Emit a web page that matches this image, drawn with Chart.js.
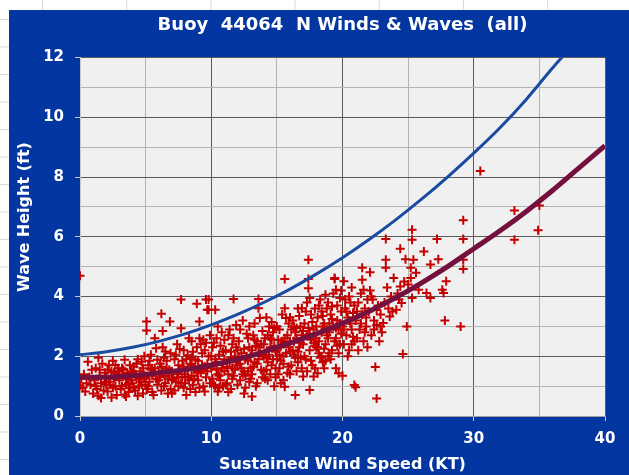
<!DOCTYPE html>
<html>
<head>
<meta charset="utf-8">
<title>Buoy 44064 N Winds & Waves</title>
<script src="https://cdn.jsdelivr.net/npm/chart.js@4.4.1/dist/chart.umd.min.js"></script>
<style>
    html, body { margin: 0; padding: 0; }
    body {
        width: 629px; height: 475px; overflow: hidden; position: relative;
        background-color: #fff;
        background-image:
            linear-gradient(to right, #d9d9d9 1px, transparent 1px),
            linear-gradient(to bottom, #d9d9d9 1px, transparent 1px);
        background-size: 84.2px 100%, 100% 27.5px;
        background-position: 42px 0, 0 19px;
    }
    #frame {
        position: absolute; left: 9px; top: 10px;
        width: 620px; height: 465px;
        background: #0336a0;
    }
</style>
</head>
<body>
<div id="frame"><canvas id="buoyChart" width="620" height="465"></canvas></div>
<script>
const calmObs = [
    [0.0,1.02],[0.1,1.25],[0.2,0.95],[0.3,1.4],[0.4,0.82],[0.5,1.1],[0.6,1.82],[0.7,1.3],[0.8,1.05],[0.9,1.55],[0.0,4.7],
    [1.0,0.75],[1.1,1.2],[1.2,1.6],[1.3,0.9],[1.4,1.95],[1.4,0.68],[1.5,1.35],[1.6,1.1],[1.7,1.75],[1.8,0.85],[1.9,1.45],[1.2,1.0],[1.6,0.6],[1.9,1.15],
    [2.0,1.3],[2.1,0.82],[2.2,1.7],[2.3,1.05],[2.4,1.5],[2.5,0.95],[2.6,1.25],[2.7,1.71],[2.8,0.7],[2.9,1.4],[2.2,1.15],[2.5,1.85],[2.7,1.0],[2.9,1.6],[2.4,0.62],[2.1,1.55],
    [3.0,1.2],[3.1,0.9],[3.2,1.6],[3.3,1.35],[3.4,1.88],[3.5,0.65],[3.5,1.05],[3.6,1.45],[3.7,0.8],[3.8,1.7],[3.9,1.2],[3.2,1.0],[3.4,0.72],[3.6,1.25],[3.8,0.95],[3.3,1.55],[3.9,1.5],
    [4.0,1.1],[4.1,1.65],[4.2,0.85],[4.3,1.3],[4.4,1.9],[4.5,1.0],[4.6,1.5],[4.7,1.82],[4.8,0.75],[4.9,1.25],[4.2,1.4],[4.4,0.68],[4.6,1.15],[4.8,1.6],[4.1,0.95],[4.3,1.75],[4.7,1.05],[4.9,2.0],
    [5.0,1.3],[5.07,2.86],[5.07,3.16],[5.1,0.9],[5.2,1.7],[5.3,1.15],[5.4,2.05],[5.5,0.8],[5.6,1.45],[5.7,2.6],[5.8,2.27],[5.9,1.88],[5.2,1.0],[5.4,1.55],[5.6,0.7],[5.8,1.25],[5.3,1.85],[5.5,1.35],[5.9,1.05],[5.7,1.6],
    [6.0,1.2],[6.2,3.42],[6.3,2.85],[6.5,2.16],[6.85,3.16],[6.1,1.75],[6.2,0.85],[6.3,1.45],[6.4,1.95],[6.5,1.1],[6.6,1.6],[6.7,0.75],[6.8,1.35],[6.9,2.1],[6.1,1.3],[6.4,1.0],[6.6,1.85],[6.8,1.55],[6.9,0.9],[6.3,2.3],[6.7,1.25],
    [7.0,0.76],[7.0,1.5],[7.2,1.9],[7.3,1.15],[7.4,2.4],[7.5,1.7],[7.6,2.24],[7.7,3.9],[7.7,2.94],[7.8,1.3],[7.9,0.95],[7.1,1.25],[7.3,2.05],[7.5,1.0],[7.6,1.55],[7.8,1.85],[7.9,2.2],[7.2,0.85],[7.4,1.4],[7.7,1.1],[7.9,1.65],
    [8.0,1.4],[8.1,0.7],[8.2,2.03],[8.3,1.2],[8.4,1.75],[8.5,2.5],[8.6,1.05],[8.7,1.6],[8.8,1.88],[8.9,3.76],[8.9,2.3],[8.1,1.9],[8.3,2.6],[8.4,0.9],[8.5,1.35],[8.6,2.15],[8.7,1.25],[8.8,0.8],[8.2,1.55],[8.9,1.45],[8.5,1.7],
    [9.0,1.2],[9.1,3.16],[9.1,2.6],[9.2,2.4],[9.3,1.7],[9.4,1.0],[9.5,0.82],[9.6,3.9],[9.6,2.45],[9.7,3.56],[9.8,3.9],[9.8,3.56],[9.0,1.85],[9.2,1.45],[9.3,2.1],[9.4,1.55],[9.5,2.2],[9.6,1.3],[9.7,1.75],[9.8,2.0],[9.9,1.1],[9.9,2.7],[9.1,0.95],[9.4,2.55],[9.7,1.5],
    [1.5,1.55],[2.0,1.05],[2.6,1.45],[3.0,1.5],[3.5,1.3],[4.0,1.45],[4.5,1.25],[5.0,1.05],[5.5,1.6],[6.0,1.45],[6.5,1.35],[7.0,1.2],[7.5,1.3],[8.0,1.1],[8.5,1.95],[9.0,1.5],[9.5,1.65],[3.7,1.1],[6.2,1.65],[8.2,1.3]
];
const moderateObs = [
    [10.0,1.6],[10.1,2.3],[10.2,1.05],[10.3,3.56],[10.3,1.9],[10.4,2.6],[10.5,0.82],[10.5,1.4],[10.6,2.05],[10.7,1.2],[10.8,2.8],[10.9,1.75],[10.1,1.25],[10.2,2.45],[10.4,1.55],[10.6,0.95],[10.7,2.35],[10.8,1.6],[10.9,2.15],[10.3,1.0],[10.5,3.0],[10.0,2.0],[10.6,1.35],[10.9,1.0],
    [11.0,1.5],[11.1,2.2],[11.2,1.1],[11.3,2.7],[11.4,1.8],[11.5,0.9],[11.6,2.4],[11.7,3.92],[11.7,1.35],[11.8,2.0],[11.9,3.05],[11.0,2.55],[11.2,1.65],[11.3,0.8],[11.4,2.9],[11.5,1.95],[11.6,1.25],[11.8,1.55],[11.9,2.3],[11.1,1.05],[11.5,2.15],[11.9,1.8],[11.3,1.4],[11.7,2.6],
    [12.0,1.7],[12.1,2.5],[12.2,1.2],[12.3,2.1],[12.4,3.2],[12.5,1.5],[12.6,0.95],[12.7,2.75],[12.8,1.85],[12.9,2.3],[12.0,1.05],[12.2,2.9],[12.3,1.6],[12.5,2.25],[12.6,1.35],[12.8,2.6],[12.9,1.15],[12.1,1.95],[12.4,1.4],[12.7,2.0],[12.9,3.0],[12.5,0.75],[12.2,1.75],[12.8,1.5],
    [13.0,2.0],[13.1,0.65],[13.1,1.4],[13.2,2.7],[13.3,1.8],[13.4,2.35],[13.5,1.1],[13.6,3.92],[13.6,3.61],[13.7,3.28],[13.7,2.1],[13.8,1.55],[13.9,2.85],[13.0,1.25],[13.2,1.65],[13.3,3.1],[13.4,1.0],[13.5,2.5],[13.6,1.9],[13.8,2.4],[13.9,1.3],[13.1,2.2],[13.5,1.75],[13.9,2.05],[13.3,2.55],
    [14.0,1.5],[14.1,2.6],[14.2,1.95],[14.3,1.2],[14.4,3.0],[14.5,2.3],[14.6,1.7],[14.7,2.8],[14.8,1.0],[14.9,2.15],[14.0,2.4],[14.2,3.3],[14.3,1.8],[14.5,1.4],[14.6,2.55],[14.7,1.9],[14.8,2.95],[14.9,1.6],[14.1,1.25],[14.4,2.05],[14.6,3.15],[14.8,2.35],[14.3,2.7],[14.9,1.3],
    [15.0,2.2],[15.1,1.4],[15.2,2.9],[15.3,1.85],[15.4,2.5],[15.5,1.2],[15.6,4.59],[15.6,3.61],[15.6,0.98],[15.7,3.28],[15.7,2.1],[15.8,2.7],[15.9,1.65],[15.0,3.0],[15.2,1.6],[15.3,2.35],[15.4,3.4],[15.5,2.0],[15.6,2.6],[15.8,1.45],[15.9,3.1],[15.1,2.55],[15.5,1.75],[15.9,2.3],[15.3,1.1],
    [16.0,2.5],[16.1,1.7],[16.2,3.2],[16.3,2.05],[16.4,0.7],[16.4,2.8],[16.5,1.5],[16.6,3.6],[16.7,2.3],[16.8,1.95],[16.9,3.61],[16.9,2.7],[16.0,1.4],[16.2,2.2],[16.3,3.0],[16.5,2.6],[16.6,1.8],[16.7,3.35],[16.8,2.45],[16.9,1.6],[16.1,2.9],[16.4,1.95],[16.6,2.15],[16.8,3.0],[16.0,3.3],
    [17.0,1.32],[17.0,2.4],[17.1,3.1],[17.2,1.9],[17.3,2.7],[17.4,5.23],[17.4,4.59],[17.4,4.28],[17.5,3.95],[17.5,0.87],[17.5,2.2],[17.6,3.4],[17.7,1.7],[17.8,1.32],[17.8,2.9],[17.9,3.6],[17.1,2.0],[17.2,3.5],[17.3,1.5],[17.6,2.55],[17.7,3.15],[17.9,2.35],[17.0,2.85],[17.4,2.95],[17.6,1.85],[17.9,1.6],[17.3,3.8],
    [18.0,2.6],[18.1,1.43],[18.1,3.3],[18.2,2.1],[18.3,3.9],[18.4,3.5],[18.4,2.8],[18.5,1.8],[18.6,1.6],[18.6,3.1],[18.7,4.06],[18.7,2.4],[18.8,3.6],[18.9,2.0],[18.0,3.0],[18.2,2.5],[18.3,1.95],[18.5,3.35],[18.6,2.25],[18.8,2.9],[18.9,3.8],[18.1,2.3],[18.4,2.0],[18.7,1.85],[18.9,2.6],[18.2,3.7],
    [19.0,2.8],[19.1,3.4],[19.2,3.67],[19.2,2.2],[19.3,4.1],[19.4,4.59],[19.4,4.62],[19.5,4.23],[19.5,1.6],[19.5,2.6],[19.6,3.2],[19.7,1.43],[19.7,2.9],[19.8,3.95],[19.8,2.4],[19.9,3.5],[19.0,2.1],[19.1,1.9],[19.3,3.0],[19.4,2.5],[19.6,3.7],[19.7,2.1],[19.8,3.1],[19.9,2.75],[19.2,3.25],[19.6,2.35],[19.9,4.2],
    [10.4,1.8],[11.0,1.9],[11.6,1.6],[12.0,2.2],[12.6,1.9],[13.0,1.6],[13.6,2.3],[14.0,2.0],[14.5,2.6],[15.0,1.9],[15.5,2.4],[16.0,2.15],[16.5,2.95],[17.0,2.6],[17.5,2.75],[18.0,2.3],[18.5,3.0],[19.0,3.1],[19.5,2.95],[15.2,2.05],[16.3,2.5],[17.8,2.45],[18.8,2.7],[14.2,1.55]
];
const strongObs = [
    [20.0,1.35],[20.0,3.0],[20.1,4.51],[20.1,2.4],[20.2,3.6],[20.3,2.7],[20.4,3.3],[20.5,4.0],[20.5,2.2],[20.6,3.8],[20.7,2.9],[20.8,3.45],[20.9,1.04],[20.9,2.5],[20.2,3.9],[20.4,2.0],[20.6,3.1],[20.7,4.3],[20.8,2.65],[20.3,3.5],[20.9,3.7],[20.1,2.9],[20.5,3.2],[20.7,2.4],
    [21.0,0.96],[21.0,3.2],[21.1,2.6],[21.2,3.8],[21.3,2.9],[21.4,4.1],[21.5,4.96],[21.5,4.56],[21.6,4.23],[21.5,3.4],[21.6,2.5],[21.7,3.6],[21.8,3.0],[21.9,2.3],[21.2,2.2],[21.4,3.1],[21.7,2.8],[21.9,3.9],[21.1,3.5],[21.8,3.3],
    [22.1,4.81],[22.1,4.2],[22.0,3.5],[22.2,2.7],[22.3,3.9],[22.4,3.2],[22.5,1.64],[22.6,3.05],[22.6,0.59],[22.7,3.7],[22.8,2.5],[22.9,3.4],[22.2,4.0],[22.4,2.9],[22.6,3.55],[22.9,3.0],
    [23.1,3.11],[23.3,5.93],[23.3,5.23],[23.3,4.96],[23.6,3.33],[23.9,4.62],[23.2,3.8],[23.4,4.3],[23.5,3.6],[23.7,4.0],[23.8,3.5],[23.0,2.8],
    [24.1,3.56],[24.4,4.34],[24.5,3.78],[24.6,2.08],[24.8,5.25],[24.9,3.0],[24.2,4.1],[24.7,4.5],[24.3,3.9],[24.4,5.6],
    [25.2,4.96],[25.2,4.62],[25.3,6.24],[25.3,5.9],[25.3,3.95],[25.4,5.23],[25.8,4.23],[25.0,4.4],[25.6,4.8],
    [26.2,5.51],[26.4,4.12],[26.7,5.07],[26.7,3.95],[27.2,5.93],[27.3,5.25],[27.6,4.23],[27.7,4.12],[27.8,3.2],[27.9,4.51],
    [29.0,3.0],[29.2,6.55],[29.2,5.93],[29.2,5.23],[29.2,4.92],[30.5,8.2],[33.1,6.88],[33.1,5.9],[34.9,6.22],[35.0,7.05]
];

// Fitted curves, read at every 2 kt
const fitSpeeds = [0, 2, 4, 6, 8, 10, 12, 14, 16, 18, 20, 22, 24, 26, 28, 30, 32, 34, 36, 38, 40];
const upperWave = [2.05, 2.15, 2.3, 2.5, 2.75, 3.05, 3.4, 3.8, 4.25, 4.75, 5.3, 5.9, 6.55, 7.25, 8.0, 8.8, 9.65, 10.6, 11.65, 12.65, 13.7];
const meanWave  = [1.3, 1.3, 1.35, 1.45, 1.55, 1.7, 1.9, 2.15, 2.45, 2.75, 3.1, 3.5, 3.95, 4.45, 5.0, 5.6, 6.2, 6.85, 7.55, 8.3, 9.05];

// Axis ticks
const speedTicks = [0, 10, 20, 30, 40];
const heightTicks = [0, 2, 4, 6, 8, 10, 12];

const FONT = '"DejaVu Sans", "Liberation Sans", Arial, sans-serif';

const toPoints = pairs => pairs.map(p => ({ x: p[0], y: p[1] }));
const toCurve = values => fitSpeeds.map((s, i) => ({ x: s, y: values[i] }));

// Plot area fill + rotated y title placed like the original
const chartDecor = {
    id: 'chartDecor',
    beforeDraw(chart) {
        const { ctx, chartArea: a } = chart;
        ctx.save();
        ctx.fillStyle = '#f0f0f0';
        ctx.fillRect(a.left, a.top, a.right - a.left, a.bottom - a.top);
        ctx.restore();
    },
    afterDraw(chart) {
        const ctx = chart.ctx;
        ctx.save();
        ctx.translate(15.5, 207);
        ctx.rotate(-Math.PI / 2);
        ctx.font = 'bold 16px ' + FONT;
        ctx.fillStyle = '#ffffff';
        ctx.textAlign = 'center';
        ctx.textBaseline = 'middle';
        ctx.fillText('Wave Height (ft)', 0, 0);
        ctx.restore();
    }
};

function gridColor(major, ctx) {
    return ctx.tick && major.includes(ctx.tick.value) ? '#5a5a5a' : '#b4b4b4';
}
function tickMarkColor(major, ctx) {
    return ctx.tick && major.includes(ctx.tick.value) ? '#c8c8c8' : 'rgba(0,0,0,0)';
}

new Chart(document.getElementById('buoyChart'), {
    type: 'scatter',
    data: {
        datasets: [{
            label: 'Upper',
            type: 'line',
            data: toCurve(upperWave),
            borderColor: '#1a4aa2',
            borderWidth: 3,
            pointRadius: 0,
            tension: 0.3,
            fill: false
        }, {
            label: 'Mean',
            type: 'line',
            data: toCurve(meanWave),
            borderColor: '#74103e',
            borderWidth: 5,
            pointRadius: 0,
            tension: 0.3,
            fill: false
        }, {
            label: 'Observed',
            data: toPoints(calmObs.concat(moderateObs, strongObs)),
            pointStyle: 'cross',
            pointRadius: 4.5,
            pointBorderWidth: 2,
            borderColor: '#c40000',
            backgroundColor: '#c40000'
        }]
    },
    options: {
        responsive: false,
        animation: false,
        layout: { padding: { left: 0, right: 24, top: 0, bottom: 0 } },
        plugins: {
            legend: { display: false },
            tooltip: { enabled: false },
            title: {
                display: true,
                fullSize: false,
                text: 'Buoy  44064  N Winds & Waves  (all)',
                color: '#ffffff',
                font: { family: FONT, size: 18, weight: 'bold' },
                padding: { top: 5, bottom: 21 }
            }
        },
        scales: {
            x: {
                type: 'linear',
                min: 0,
                max: 40,
                afterFit(scale) { scale.height = 59; },
                ticks: {
                    stepSize: 5,
                    padding: 9,
                    color: '#ffffff',
                    font: { family: FONT, size: 15, weight: 'bold' },
                    callback: v => speedTicks.includes(v) ? v : ''
                },
                grid: {
                    color: ctx => gridColor(speedTicks, ctx),
                    tickColor: ctx => tickMarkColor(speedTicks, ctx),
                    tickLength: 5
                },
                border: { color: '#a0a0a0' },
                title: {
                    display: true,
                    text: 'Sustained Wind Speed (KT)',
                    color: '#ffffff',
                    font: { family: FONT, size: 16, weight: 'bold' },
                    padding: { top: 0, bottom: 1 }
                }
            },
            y: {
                min: 0,
                max: 12,
                afterFit(scale) { scale.width = 71; },
                ticks: {
                    stepSize: 1,
                    padding: 11,
                    color: '#ffffff',
                    font: { family: FONT, size: 15, weight: 'bold' },
                    callback: v => heightTicks.includes(v) ? v : ''
                },
                grid: {
                    color: ctx => gridColor(heightTicks, ctx),
                    tickColor: ctx => tickMarkColor(heightTicks, ctx),
                    tickLength: 5
                },
                border: { color: '#c8c8c8' }
            }
        }
    },
    plugins: [chartDecor]
});
</script>
</body>
</html>
